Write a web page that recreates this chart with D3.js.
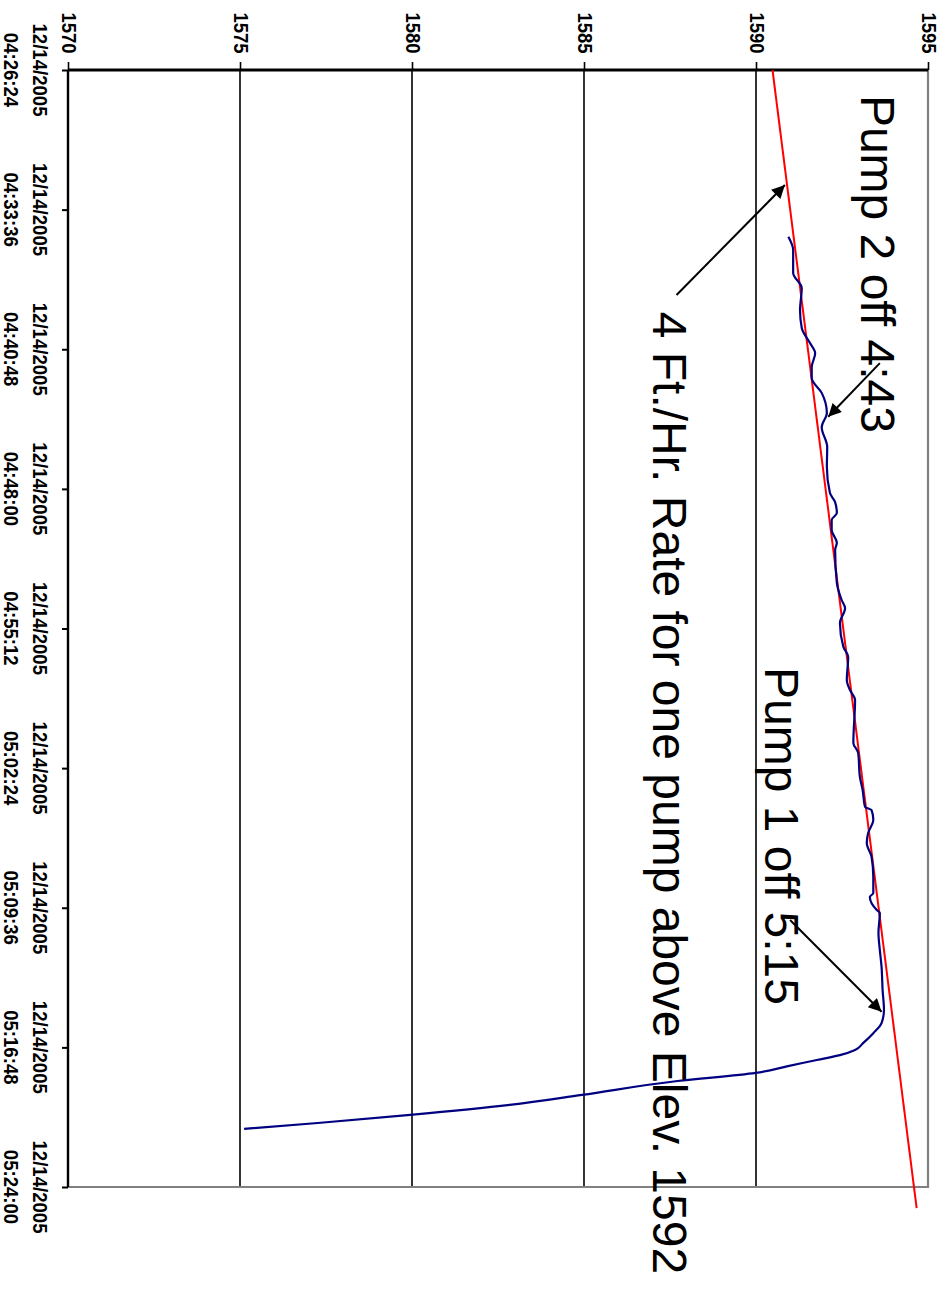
<!DOCTYPE html>
<html>
<head>
<meta charset="utf-8">
<script src="https://cdn.jsdelivr.net/npm/d3@7"></script>
<style>
  html, body { margin: 0; padding: 0; background: #fff; }
  svg { display: block; }
  text { font-family: "Liberation Sans", Arial, sans-serif; }
</style>
</head>
<body>
<svg id="chart" width="951" height="1296"></svg>
<script>
// ---------- data ----------
const tickDate = "12/14/2005";
const timeTicks = ["04:26:24","04:33:36","04:40:48","04:48:00","04:55:12","05:02:24","05:09:36","05:16:48","05:24:00"];
const elevTicks = [1570, 1575, 1580, 1585, 1590, 1595];

const levelTimes = ["04:35:00","04:35:41","04:36:52","04:37:39","04:38:47","04:39:42","04:40:29","04:41:00","04:41:43","04:42:17",
  "04:43:03","04:44:05","04:44:49","04:45:50","04:46:52","04:48:13","04:48:41","04:49:15","04:49:36","04:50:07",
  "04:50:47","04:51:09","04:52:51","04:53:44","04:54:09","04:54:55","04:56:09","04:56:40","04:57:51","04:58:22",
  "04:58:53","05:01:06","05:01:37","05:02:51","05:03:32","05:04:24","05:04:34","05:05:04","05:05:45","05:06:16",
  "05:06:59","05:08:01","05:08:50","05:09:03","05:09:43","05:09:52","05:10:54","05:11:47","05:12:39","05:13:50",
  "05:14:52","05:15:33","05:16:04","05:16:34","05:16:56","05:17:12","05:17:27","05:17:46","05:18:07","05:18:32",
  "05:19:15","05:19:46","05:20:17","05:20:42","05:21:00"];
const levelValues = [1590.94,1591.08,1591.08,1591.33,1591.28,1591.33,1591.57,1591.72,1591.62,1591.62,
  1591.91,1592.06,1591.91,1592.07,1592.06,1592.15,1592.30,1592.35,1592.20,1592.20,
  1592.35,1592.30,1592.35,1592.49,1592.59,1592.44,1592.54,1592.68,1592.64,1592.73,
  1592.88,1592.83,1592.97,1593.02,1593.10,1593.17,1593.36,1593.41,1593.26,1593.22,
  1593.36,1593.41,1593.41,1593.31,1593.51,1593.60,1593.56,1593.60,1593.65,1593.68,
  1593.72,1593.65,1593.41,1593.12,1592.88,1592.44,1591.77,1590.93,1589.99,1587.72,
  1584.94,1582.84,1579.95,1577.26,1575.12];

const trendTimes = ["04:26:24", "05:25:05"];
const trendValues = [1590.48, 1594.67];

// annotations (anchored in data units: time, elevation)
const noteTexts = ["Pump 2 off 4:43", "Pump 1 off 5:15", "4 Ft./Hr. Rate for one pump above Elev. 1592"];
const noteTimes = ["04:27:41", "04:57:11", "04:38:52"];
const noteValues = [1593.05, 1590.26, 1587.01];
const arrowTailTimes = ["04:41:31", "05:10:14", "04:38:00"];
const arrowTailValues = [1593.60, 1590.99, 1587.69];
const arrowTipTimes = ["04:44:17", "05:14:58", "04:32:20"];
const arrowTipValues = [1592.10, 1593.65, 1590.84];

// ---------- drawing ----------
const parseT = d3.timeParse("%H:%M:%S");
const svg = d3.select("#chart");

const plotL = 68, plotR = 928, plotT = 70, plotB = 1187;

const x = d3.scaleLinear().domain([1570, 1595]).range([plotL, plotR]);
const y = d3.scaleTime()
  .domain([parseT(timeTicks[0]), parseT(timeTicks[timeTicks.length - 1])])
  .range([plotT, plotB]);

// gridlines
svg.append("g")
  .selectAll("line")
  .data(elevTicks.filter(v => v !== 1570 && v !== 1595))
  .join("line")
  .attr("x1", d => x(d)).attr("x2", d => x(d))
  .attr("y1", plotT).attr("y2", plotB)
  .attr("stroke", "#000").attr("stroke-width", 1.6);

// plot border (right + bottom gray)
svg.append("path")
  .attr("d", `M${x(1595)},${plotT}V${plotB}H${plotL}`)
  .attr("fill", "none").attr("stroke", "#808080").attr("stroke-width", 2.2);

// value axis (top)
const xAxis = d3.axisTop(x).tickValues(elevTicks).tickSize(8).tickFormat("");
const gx = svg.append("g").attr("transform", `translate(0,${plotT})`).call(xAxis);
gx.select(".domain").attr("stroke", "#000").attr("stroke-width", 3.2)
  .attr("d", `M${plotL},0H${plotR}`);
gx.selectAll(".tick line").attr("stroke", "#000").attr("stroke-width", 1.6);

svg.append("g").selectAll("text")
  .data(elevTicks)
  .join("text")
  .attr("transform", d => `translate(${x(d) + 1},33) rotate(90) scale(0.88,1)`)
  .attr("text-anchor", "middle")
  .attr("dominant-baseline", "central")
  .attr("font-size", 21).attr("font-weight", "bold")
  .attr("fill", "#000")
  .text(d => d);

// time axis (left)
const yAxis = d3.axisLeft(y).tickValues(timeTicks.map(parseT)).tickSize(6).tickFormat("");
const gy = svg.append("g").attr("transform", `translate(${plotL},0)`).call(yAxis);
gy.select(".domain").attr("stroke", "#000").attr("stroke-width", 2.4)
  .attr("d", `M0,${plotT}V${plotB}`);
gy.selectAll(".tick line").attr("stroke", "#000").attr("stroke-width", 2);

const tl = svg.append("g").selectAll("g")
  .data(timeTicks)
  .join("g")
  .attr("transform", d => `translate(0,${y(parseT(d))})`);
tl.append("text")
  .attr("transform", "translate(39.5,0) rotate(90) scale(0.93,1)")
  .attr("text-anchor", "middle").attr("dominant-baseline", "central")
  .attr("font-size", 20).attr("font-weight", "bold")
  .text(tickDate);
tl.append("text")
  .attr("transform", "translate(11,0) rotate(90) scale(0.93,1)")
  .attr("text-anchor", "middle").attr("dominant-baseline", "central")
  .attr("font-size", 20).attr("font-weight", "bold")
  .text(d => d);

// trend line
const trend = trendTimes.map((t, i) => ({ t: parseT(t), v: trendValues[i] }));
svg.append("path")
  .datum(trend)
  .attr("d", d3.line().x(d => x(d.v)).y(d => y(d.t)))
  .attr("fill", "none").attr("stroke", "#ff0000").attr("stroke-width", 2);

// level series
const level = levelTimes.map((t, i) => ({ t: parseT(t), v: levelValues[i] }));
svg.append("path")
  .datum(level)
  .attr("d", d3.line().curve(d3.curveMonotoneY).x(d => x(d.v)).y(d => y(d.t)))
  .attr("fill", "none").attr("stroke", "#000080").attr("stroke-width", 2.2)
  .attr("stroke-linejoin", "round");

// arrowhead marker
svg.append("defs").append("marker")
  .attr("id", "arrow")
  .attr("viewBox", "0 0 10 10")
  .attr("refX", 10).attr("refY", 5)
  .attr("markerUnits", "userSpaceOnUse")
  .attr("markerWidth", 20).attr("markerHeight", 13)
  .attr("orient", "auto")
  .append("path").attr("d", "M0,0L10,5L0,10Z").attr("fill", "#000");

// arrows
svg.append("g").selectAll("line")
  .data(arrowTailTimes.map((t, i) => i))
  .join("line")
  .attr("x1", i => x(arrowTailValues[i])).attr("y1", i => y(parseT(arrowTailTimes[i])))
  .attr("x2", i => x(arrowTipValues[i])).attr("y2", i => y(parseT(arrowTipTimes[i])))
  .attr("stroke", "#000").attr("stroke-width", 2)
  .attr("marker-end", "url(#arrow)");

// annotation texts
svg.append("g").selectAll("text")
  .data(noteTexts.map((t, i) => i))
  .join("text")
  .attr("transform", i => `translate(${x(noteValues[i])},${y(parseT(noteTimes[i]))}) rotate(90)`)
  .attr("text-anchor", "start")
  .attr("font-size", 48)
  .attr("fill", "#000")
  .text(i => noteTexts[i]);
</script>
</body>
</html>
